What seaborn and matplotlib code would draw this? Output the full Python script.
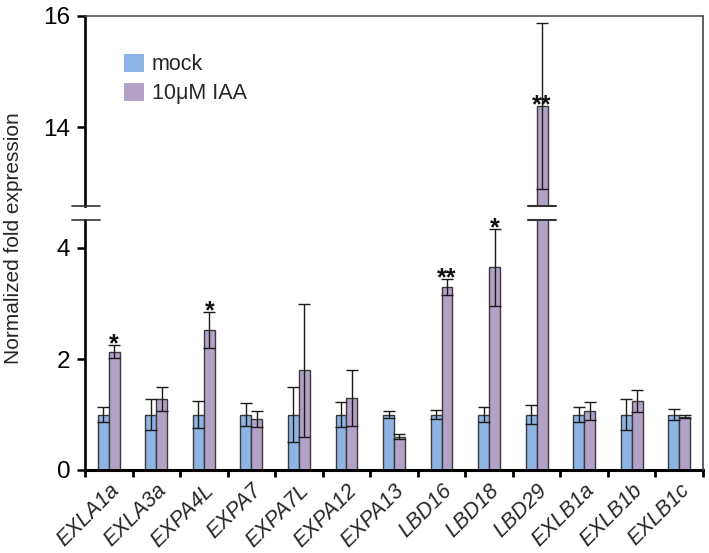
import numpy as np
import pandas as pd
import matplotlib
matplotlib.use("Agg")
import matplotlib.pyplot as plt
import seaborn as sns
from matplotlib.patches import Patch
from matplotlib.lines import Line2D
import matplotlib.transforms as mtransforms

# ---------------- data ----------------
genes = ["EXLA1a", "EXLA3a", "EXPA4L", "EXPA7", "EXPA7L", "EXPA12", "EXPA13",
         "LBD16", "LBD18", "LBD29", "EXLB1a", "EXLB1b", "EXLB1c"]
conditions = ["mock", "10μM IAA"]
mock_mean = [1.0, 1.0, 1.0, 1.0, 1.0, 1.0, 1.0, 1.0, 1.0, 1.0, 1.0, 1.0, 1.0]
mock_err = [0.13, 0.28, 0.25, 0.20, 0.50, 0.22, 0.06, 0.08, 0.14, 0.18, 0.13, 0.28, 0.10]
iaa_mean = [2.13, 1.28, 2.52, 0.92, 1.80, 1.30, 0.60, 3.30, 3.65, 14.38, 1.06, 1.25, 0.96]
iaa_err = [0.12, 0.22, 0.32, 0.15, 1.20, 0.50, 0.05, 0.14, 0.70, 1.50, 0.16, 0.20, 0.03]
iaa_sig = ["*", "", "*", "", "", "", "", "**", "*", "**", "", "", ""]
lower_ticks = [0, 2, 4]
upper_ticks = [14, 16]

df = pd.DataFrame({
    "gene": genes * 2,
    "condition": [conditions[0]] * len(genes) + [conditions[1]] * len(genes),
    "value": mock_mean + iaa_mean,
})
means = [mock_mean, iaa_mean]
errs = [mock_err, iaa_err]

# ---------------- style ----------------
sns.set_theme(style="ticks")
plt.rcParams["font.family"] = ["Liberation Sans", "DejaVu Sans"]
plt.rcParams["font.size"] = 15

c_mock = "#8DB4E2"
c_iaa = "#B3A2C7"
edge = "#3a3a3a"

W, H = 709, 553
fig = plt.figure(figsize=(W / 100, H / 100), dpi=100)
px_per_unit = 55.5
ax_top = fig.add_axes([85 / W, 1 - 206 / H, 618 / W, (206 - 16) / H])
ax_bot = fig.add_axes([85 / W, 1 - 470 / H, 618 / W, (470 - 220) / H])
bot_lim = (0, (470 - 220) / px_per_unit)
top_lim = (16 - (206 - 16) / px_per_unit, 16)

bars_by_ax = {}
for ax, lim in [(ax_top, top_lim), (ax_bot, bot_lim)]:
    sns.barplot(data=df, x="gene", y="value", hue="condition", order=genes,
                hue_order=conditions, palette=[c_mock, c_iaa], width=0.46,
                edgecolor=edge, linewidth=1.0, errorbar=None, legend=False,
                saturation=1, ax=ax)
    bar_conts = list(ax.containers)[:2]
    bars_by_ax[ax] = bar_conts
    for ci, cont in enumerate(bar_conts):
        xs = [b.get_x() + b.get_width() / 2 for b in cont]
        ax.errorbar(xs, means[ci], yerr=errs[ci], fmt="none", ecolor="#1a1a1a",
                    elinewidth=1.0, capsize=4.5, capthick=1.0, zorder=5)
    ax.set_ylim(*lim)
    ax.set_xlim(-0.5, len(genes) - 0.5)
    ax.set_xlabel("")
    ax.set_ylabel("")
    ax.spines["right"].set_visible(False)
    ax.spines["left"].set_linewidth(1.9)
    ax.spines["left"].set_color("black")
    ax.tick_params(axis="y", direction="out", length=5.5, width=1.8,
                   labelsize=17.5, pad=5, colors="black")

# significance stars
iaa_bars = list(bars_by_ax[ax_bot][1])
for i, s in enumerate(iaa_sig):
    if not s:
        continue
    b = iaa_bars[i]
    x = b.get_x() + b.get_width() / 2
    m, e = iaa_mean[i], iaa_err[i]
    target = ax_top if m > bot_lim[1] else ax_bot
    anchor = m if m > bot_lim[1] else m + e
    target.annotate(s, (x, anchor), xytext=(0, -4.5), textcoords="offset points",
                    ha="center", va="baseline", fontsize=18, fontweight="bold",
                    color="#111111", annotation_clip=False)

# top axes
ax_top.spines["bottom"].set_visible(False)
ax_top.spines["top"].set_linewidth(1.1)
ax_top.spines["top"].set_color("#444444")
ax_top.set_yticks(upper_ticks)
ax_top.set_xticks([])

# bottom axes
ax_bot.spines["top"].set_visible(False)
ax_bot.spines["bottom"].set_linewidth(2.2)
ax_bot.spines["bottom"].set_color("black")
ax_bot.set_yticks(lower_ticks)
ax_bot.set_xticks(range(len(genes)))
ax_bot.set_xticklabels(genes, rotation=45, ha="right", rotation_mode="anchor",
                       fontstyle="italic", fontsize=15.5)
shift = mtransforms.ScaledTranslation(5 / 100, 2 / 100, fig.dpi_scale_trans)
for lab in ax_bot.get_xticklabels():
    lab.set_transform(lab.get_transform() + shift)
ax_bot.set_xticks(np.arange(-0.5, len(genes), 1.0), minor=True)
ax_bot.tick_params(axis="x", which="major", length=0, pad=7)
ax_bot.tick_params(axis="x", which="minor", direction="out", length=5,
                   width=2.0, color="black")

# right frame line (continuous through break)
fig.add_artist(Line2D([703 / W, 703 / W], [1 - 16 / H, 1 - 470 / H],
                      transform=fig.transFigure, color="#444444", lw=1.2))

# break marks
for ax, yy in [(ax_top, 0.0), (ax_bot, 1.0)]:
    ax.plot([-0.021, 0.024], [yy, yy], transform=ax.transAxes, color="#333333",
            lw=1.2, clip_on=False, zorder=6)
    bx = iaa_bars[9].get_x() + iaa_bars[9].get_width() / 2
    tr = mtransforms.blended_transform_factory(ax.transData, ax.transAxes)
    ax.plot([bx - 0.3, bx + 0.3], [yy, yy], transform=tr, color="#333333",
            lw=1.5, clip_on=False, zorder=6)

# legend
handles = [Patch(facecolor=c_mock, edgecolor="none"),
           Patch(facecolor=c_iaa, edgecolor="none")]
fig.legend(handles, conditions, loc="upper left",
           bbox_to_anchor=(124 / W, 1 - 54 / H), frameon=False, fontsize=15.5,
           handlelength=0.95, handleheight=0.9, handletextpad=0.35,
           labelspacing=0.35, borderpad=0, borderaxespad=0)

fig.text(14 / W, 1 - 238 / H, "Normalized fold expression", rotation=90,
         ha="center", va="center", fontsize=15)

fig.savefig("out.png", dpi=100)
